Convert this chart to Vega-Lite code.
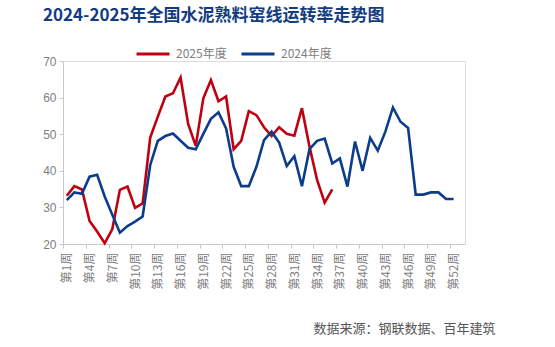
{
  "$schema": "https://vega.github.io/schema/vega-lite/v6.json",
  "width": 402,
  "height": 183,
  "autosize": "none",
  "padding": {"left": 63, "top": 61, "right": 90, "bottom": 103},
  "background": "white",
  "title": {
    "text": "2024-2025年全国水泥熟料窑线运转率走势图",
    "anchor": "start",
    "frame": "group",
    "dx": -20,
    "offset": 11,
    "fontSize": 17,
    "font": "Noto Sans CJK SC",
    "fontWeight": "bold",
    "color": "#133c7e"
  },
  "data": {"values": [
    {"week":1,"year":"2025年度","value":33.2},{"week":2,"year":"2025年度","value":35.8},{"week":3,"year":"2025年度","value":34.9},{"week":4,"year":"2025年度","value":26.3},{"week":5,"year":"2025年度","value":23.4},{"week":6,"year":"2025年度","value":20.2},{"week":7,"year":"2025年度","value":24.1},{"week":8,"year":"2025年度","value":34.8},{"week":9,"year":"2025年度","value":35.7},{"week":10,"year":"2025年度","value":29.9},
    {"week":11,"year":"2025年度","value":31.1},{"week":12,"year":"2025年度","value":49.1},{"week":13,"year":"2025年度","value":54.8},{"week":14,"year":"2025年度","value":60.3},{"week":15,"year":"2025年度","value":61.2},{"week":16,"year":"2025年度","value":65.5},{"week":17,"year":"2025年度","value":52.8},{"week":18,"year":"2025年度","value":46.8},{"week":19,"year":"2025年度","value":59.8},{"week":20,"year":"2025年度","value":64.8},
    {"week":21,"year":"2025年度","value":59.0},{"week":22,"year":"2025年度","value":60.3},{"week":23,"year":"2025年度","value":45.9},{"week":24,"year":"2025年度","value":48.2},{"week":25,"year":"2025年度","value":56.3},{"week":26,"year":"2025年度","value":55.2},{"week":27,"year":"2025年度","value":51.9},{"week":28,"year":"2025年度","value":49.5},{"week":29,"year":"2025年度","value":51.9},{"week":30,"year":"2025年度","value":50.1},
    {"week":31,"year":"2025年度","value":49.6},{"week":32,"year":"2025年度","value":57.1},{"week":33,"year":"2025年度","value":46.6},{"week":34,"year":"2025年度","value":37.5},{"week":35,"year":"2025年度","value":31.3},{"week":36,"year":"2025年度","value":34.9},
    {"week":1,"year":"2024年度","value":32.0},{"week":2,"year":"2024年度","value":34.1},{"week":3,"year":"2024年度","value":33.7},{"week":4,"year":"2024年度","value":38.4},{"week":5,"year":"2024年度","value":38.9},{"week":6,"year":"2024年度","value":33.0},{"week":7,"year":"2024年度","value":28.0},{"week":8,"year":"2024年度","value":23.1},{"week":9,"year":"2024年度","value":24.9},{"week":10,"year":"2024年度","value":26.1},
    {"week":11,"year":"2024年度","value":27.5},{"week":12,"year":"2024年度","value":41.6},{"week":13,"year":"2024年度","value":48.2},{"week":14,"year":"2024年度","value":49.5},{"week":15,"year":"2024年度","value":50.2},{"week":16,"year":"2024年度","value":48.2},{"week":17,"year":"2024年度","value":46.3},{"week":18,"year":"2024年度","value":45.9},{"week":19,"year":"2024年度","value":50.1},{"week":20,"year":"2024年度","value":54.2},
    {"week":21,"year":"2024年度","value":56.0},{"week":22,"year":"2024年度","value":51.6},{"week":23,"year":"2024年度","value":41.1},{"week":24,"year":"2024年度","value":35.8},{"week":25,"year":"2024年度","value":35.8},{"week":26,"year":"2024年度","value":41.1},{"week":27,"year":"2024年度","value":48.4},{"week":28,"year":"2024年度","value":50.7},{"week":29,"year":"2024年度","value":47.7},{"week":30,"year":"2024年度","value":41.3},
    {"week":31,"year":"2024年度","value":44.0},{"week":32,"year":"2024年度","value":35.8},{"week":33,"year":"2024年度","value":45.9},{"week":34,"year":"2024年度","value":48.2},{"week":35,"year":"2024年度","value":48.8},{"week":36,"year":"2024年度","value":42.0},{"week":37,"year":"2024年度","value":43.4},{"week":38,"year":"2024年度","value":35.7},{"week":39,"year":"2024年度","value":48.0},{"week":40,"year":"2024年度","value":40.0},
    {"week":41,"year":"2024年度","value":49.0},{"week":42,"year":"2024年度","value":45.5},{"week":43,"year":"2024年度","value":50.7},{"week":44,"year":"2024年度","value":57.3},{"week":45,"year":"2024年度","value":53.4},{"week":46,"year":"2024年度","value":51.7},{"week":47,"year":"2024年度","value":33.5},{"week":48,"year":"2024年度","value":33.5},{"week":49,"year":"2024年度","value":34.1},{"week":50,"year":"2024年度","value":34.1},
    {"week":51,"year":"2024年度","value":32.3},{"week":52,"year":"2024年度","value":32.3}
  ]},
  "mark": {"type": "line", "strokeWidth": 2.6, "strokeJoin": "miter"},
  "encoding": {
    "x": {
      "field": "week",
      "type": "quantitative",
      "scale": {"domain": [0.5, 53.5], "nice": false, "zero": false},
      "axis": {
        "values": [1,4,7,10,13,16,19,22,25,28,31,34,37,40,43,46,49,52],
        "labelExpr": "'第' + datum.value + '周'",
        "labelAngle": -90,
        "labelFont": "Noto Sans CJK SC",
        "labelFontSize": 12,
        "labelColor": "#808080",
        "labelPadding": 4,
        "tickOffset": -3.79,
        "labelOffset": 3.79,
        "tickSize": 4,
        "tickColor": "#c8c8c8",
        "domainColor": "#c8c8c8",
        "grid": false,
        "title": "数据来源：钢联数据、百年建筑",
        "titleFont": "Noto Sans CJK SC",
        "titleFontSize": 13,
        "titleFontWeight": "normal",
        "titleColor": "#555555",
        "titleAnchor": "end",
        "titleAlign": "right",
        "titleBaseline": "alphabetic",
        "titleX": 432,
        "titleY": 88
      }
    },
    "y": {
      "field": "value",
      "type": "quantitative",
      "scale": {"domain": [20, 70], "nice": false, "zero": false},
      "axis": {
        "values": [20,30,40,50,60,70],
        "labelFont": "Liberation Sans",
        "labelFontSize": 12,
        "labelColor": "#808080",
        "labelPadding": 3,
        "tickSize": 4,
        "tickColor": "#c8c8c8",
        "domainColor": "#c8c8c8",
        "grid": false,
        "title": null
      }
    },
    "color": {
      "field": "year",
      "type": "nominal",
      "scale": {"domain": ["2025年度", "2024年度"], "range": ["#c00010", "#0b3d8c"]},
      "legend": {
        "title": null,
        "orient": "none",
        "direction": "horizontal",
        "legendX": 72,
        "legendY": -25,
        "symbolType": "stroke",
        "symbolSize": 1089,
        "symbolStrokeWidth": 3,
        "labelFont": "Noto Sans CJK SC",
        "labelFontSize": 12,
        "labelColor": "#808080",
        "labelOffset": 5,
        "columnPadding": 8
      }
    }
  }
}
